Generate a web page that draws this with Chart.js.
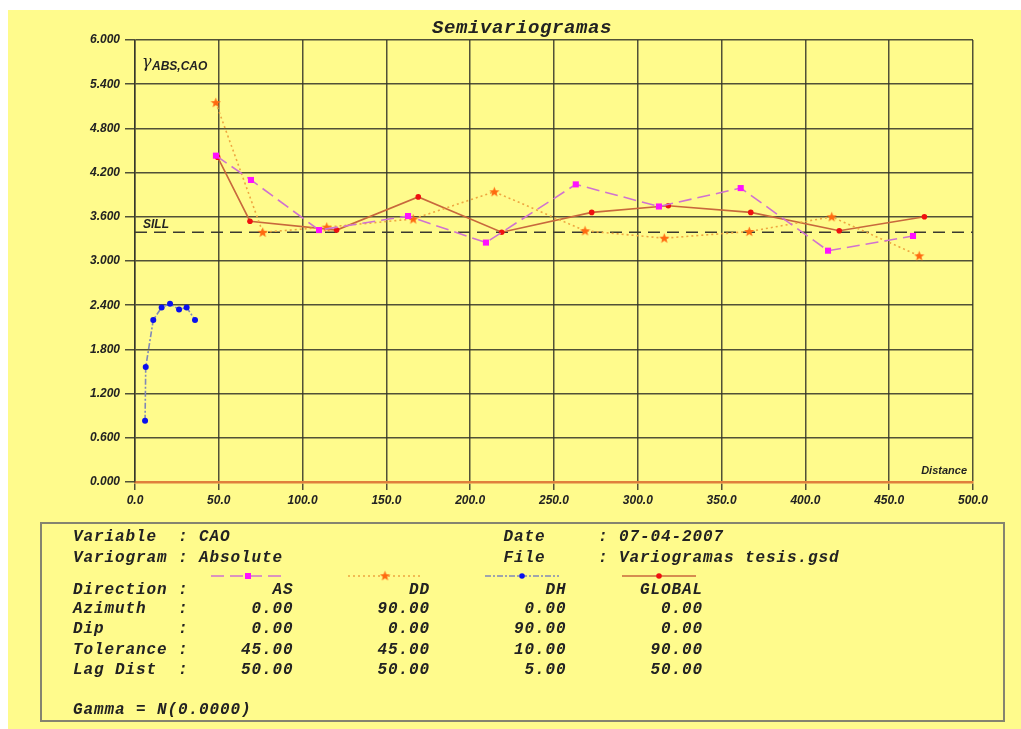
<!DOCTYPE html>
<html>
<head>
<meta charset="utf-8">
<script src="https://cdn.jsdelivr.net/npm/chart.js@4/dist/chart.umd.min.js"></script>
<style>
body { margin: 0; background: #ffffff; width: 1021px; height: 729px; overflow: hidden; }
#page { position: absolute; left: 8px; top: 10px; width: 1013px; height: 719px; background: #fffb8c; }
#chartBox { position: absolute; left: 0; top: 0; width: 1013px; height: 719px; }
#info { position: absolute; left: 40px; top: 522px; width: 961px; height: 196px; border: 2px solid #85846f; }
.row { position: absolute; left: 73px; margin: 0; white-space: pre; font: italic bold 16px "Liberation Mono", "Courier New", monospace; letter-spacing: 0.9px; line-height: 18px; color: #222; }
</style>
</head>
<body>
<div id="page"><div id="chartBox"><canvas id="semiChart"></canvas></div></div>
<div id="info"></div>
<div id="rows"></div>
<script>
// distancias (x) y gamma (y)
const asX = [48.3, 69.2, 109.8, 162.9, 209.4, 263.0, 312.6, 361.4, 413.5, 464.2];
const asY = [4.43, 4.10, 3.42, 3.61, 3.25, 4.04, 3.74, 3.99, 3.14, 3.34];
const ddX = [48.2, 76.2, 114.4, 166.0, 214.4, 268.5, 315.8, 366.5, 415.7, 467.9];
const ddY = [5.15, 3.39, 3.46, 3.57, 3.94, 3.41, 3.31, 3.40, 3.60, 3.07];
const dhX = [6.0, 6.4, 10.9, 15.9, 20.9, 26.3, 30.8, 35.8];
const dhY = [0.83, 1.56, 2.20, 2.37, 2.42, 2.34, 2.37, 2.20];
const glX = [49.3, 68.6, 120.3, 169.0, 218.8, 272.5, 318.2, 367.4, 420.2, 471.0];
const glY = [4.41, 3.54, 3.42, 3.87, 3.39, 3.66, 3.75, 3.66, 3.41, 3.60];
const sill = 3.39;

// tabla de direcciones
const directions = ['AS', 'DD', 'DH', 'GLOBAL'];
const azimuth = [0, 90, 0, 0];
const dip = [0, 0, 90, 0];
const tolerance = [45, 45, 10, 90];
const lagDist = [50, 50, 5, 50];

function pts(xs, ys){ // pares x,y para el grafico
    return xs.map(function(x, i){ return {x: x, y: ys[i]}; });
}

// estrella rellena como pointStyle
const star = document.createElement('canvas');
star.width = 11; star.height = 11;
(function(){
    let c = star.getContext('2d');
    c.fillStyle = '#ff6a10';
    c.beginPath();
    for (let i = 0; i < 10; i++) {
        let r = i % 2 ? 2.3 : 5.4;
        let a = -Math.PI / 2 + i * Math.PI / 5;
        c.lineTo(5.5 + r * Math.cos(a), 5.8 + r * Math.sin(a));
    }
    c.closePath();
    c.fill();
})();

const sets = [
    {label: 'AS', data: pts(asX, asY), borderColor: '#d072d0', borderDash: [13, 6], borderWidth: 1.6,
     pointStyle: 'rect', pointRadius: 4.3, pointBackgroundColor: '#ff10ff', pointBorderColor: '#ff10ff', pointBorderWidth: 0},
    {label: 'DD', data: pts(ddX, ddY), borderColor: '#eea640', borderDash: [2, 3], borderWidth: 1.6,
     pointStyle: star, pointRadius: 5},
    {label: 'DH', data: pts(dhX, dhY), borderColor: '#8088b8', borderDash: [6, 2, 2, 2], borderWidth: 1.6,
     pointStyle: 'circle', pointRadius: 3, pointBackgroundColor: '#0a10ee', pointBorderColor: '#0a10ee', pointBorderWidth: 0},
    {label: 'GLOBAL', data: pts(glX, glY), borderColor: '#c8683c', borderWidth: 1.6,
     pointStyle: 'circle', pointRadius: 2.8, pointBackgroundColor: '#f01010', pointBorderColor: '#f01010', pointBorderWidth: 0},
    {label: 'SILL', data: [{x: 0, y: sill}, {x: 500, y: sill}], borderColor: '#3a3a30', borderDash: [12, 7],
     borderWidth: 1.5, pointRadius: 0}
];

const tickFont = {family: '"Liberation Sans", Arial, sans-serif', style: 'italic', weight: 'bold', size: 12};

const textPlugin = { // titulo, rotulos y muestras de leyenda
    id: 'textos',
    afterDraw: function(chart){
        let ctx = chart.ctx, a = chart.chartArea, ys = chart.scales.y;
        ctx.save();
        ctx.fillStyle = '#222';
        ctx.textAlign = 'center';
        ctx.textBaseline = 'alphabetic';
        ctx.font = 'italic bold 19px "Liberation Mono", monospace';
        ctx.letterSpacing = '0.6px';
        ctx.fillText('Semivariogramas', 514, 23);
        ctx.letterSpacing = '0px';
        ctx.textAlign = 'left';
        ctx.font = 'italic 16px "DejaVu Serif", serif';
        ctx.fillText('\u03b3', a.left + 7, a.top + 27);
        ctx.font = 'italic bold 12px "Liberation Sans", Arial, sans-serif';
        ctx.fillText('ABS,CAO', a.left + 17, a.top + 30);
        ctx.fillText('SILL', a.left + 8, ys.getPixelForValue(sill) - 4);
        ctx.textAlign = 'right';
        ctx.font = 'italic bold 11px "Liberation Sans", Arial, sans-serif';
        ctx.fillText('Distance', a.right - 6, a.bottom - 8);
        // muestras de linea en el recuadro
        let cx = [240, 377, 514, 651], y = 566;
        for (let i = 0; i < 4; i++) {
            let d = chart.data.datasets[i];
            ctx.strokeStyle = d.borderColor;
            ctx.lineWidth = 1.6;
            ctx.setLineDash(d.borderDash || []);
            ctx.beginPath();
            ctx.moveTo(cx[i] - 37, y);
            ctx.lineTo(cx[i] + 37, y);
            ctx.stroke();
            ctx.setLineDash([]);
            if (i == 0) {
                ctx.fillStyle = d.pointBackgroundColor;
                ctx.fillRect(cx[i] - 3, y - 3, 6, 6);
            } else if (i == 1) {
                ctx.drawImage(star, cx[i] - 5.5, y - 5.8);
            } else {
                ctx.fillStyle = d.pointBackgroundColor;
                ctx.beginPath();
                ctx.arc(cx[i], y, 2.8, 0, Math.PI * 2);
                ctx.fill();
            }
        }
        ctx.restore();
    }
};

const semiChart = new Chart(document.getElementById('semiChart'), {
    type: 'scatter',
    data: {datasets: sets},
    options: {
        responsive: true,
        maintainAspectRatio: false,
        animation: false,
        showLine: true,
        layout: {padding: {top: 30, right: 48, left: 0, bottom: 0}},
        plugins: {legend: {display: false}, tooltip: {enabled: false}},
        scales: {
            x: {
                type: 'linear', min: 0, max: 500,
                afterFit: function(s){ s.height = 247; },
                ticks: {stepSize: 50, color: '#222', font: tickFont, padding: 3, maxRotation: 0,
                        callback: function(v){ return Number(v).toFixed(1); }},
                grid: {color: 'rgba(50,50,40,0.85)', lineWidth: 1.5, tickLength: 8},
                border: {color: '#e0803c', width: 2.5}
            },
            y: {
                type: 'linear', min: 0, max: 6,
                afterFit: function(s){ s.width = 127; },
                ticks: {stepSize: 0.6, color: '#222', font: tickFont, padding: 5,
                        callback: function(v){ return Number(v).toFixed(3); }},
                grid: {color: 'rgba(50,50,40,0.85)', lineWidth: 1.5, tickLength: 10},
                border: {color: 'rgba(50,50,40,0.85)', width: 1.5}
            }
        }
    },
    plugins: [textPlugin]
});

// texto del recuadro inferior
function col(v, w){ return String(v).padStart(w); }
function line(label, vals){
    let s = label.padEnd(10) + ':';
    let w = [10, 13, 13, 13];
    vals.forEach(function(v, i){ s += col(v, w[i]); });
    return s;
}
const rowsText = [
    ['Variable  : CAO'.padEnd(41) + 'Date     : 07-04-2007', 537],
    ['Variogram : Absolute'.padEnd(41) + 'File     : Variogramas tesis.gsd', 558],
    [line('Direction', directions), 590],
    [line('Azimuth', azimuth.map(function(v){ return v.toFixed(2); })), 609],
    [line('Dip', dip.map(function(v){ return v.toFixed(2); })), 629],
    [line('Tolerance', tolerance.map(function(v){ return v.toFixed(2); })), 650],
    [line('Lag Dist', lagDist.map(function(v){ return v.toFixed(2); })), 670],
    ['Gamma = N(0.0000)', 710]
];
let rowsDiv = document.getElementById('rows');
rowsText.forEach(function(r){
    let p = document.createElement('pre');
    p.className = 'row';
    p.style.top = (r[1] - 9) + 'px';
    p.textContent = r[0];
    rowsDiv.append(p);
});
</script>
</body>
</html>
